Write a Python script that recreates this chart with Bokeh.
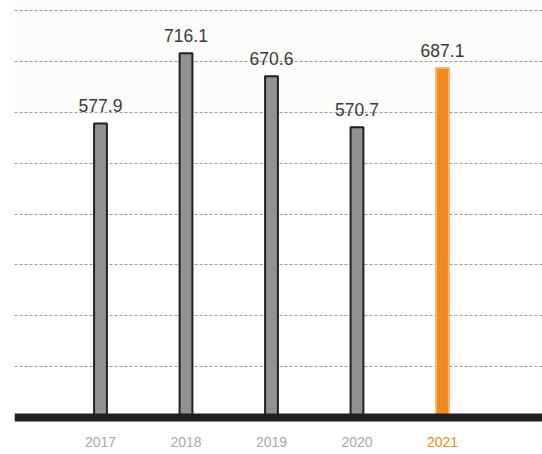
from bokeh.plotting import figure
from bokeh.models import ColumnDataSource, Range1d, Span, SingleIntervalTicker, BoxAnnotation
from bokeh.core.properties import value
from bokeh.embed import file_html
from bokeh.resources import INLINE

years = ["2017", "2018", "2019", "2020", "2021"]
values = [577.9, 716.1, 670.6, 570.7, 687.1]
fill_colors = ["#919295", "#919295", "#919295", "#919295", "#f08a1f"]
line_colors = ["#231f20", "#231f20", "#231f20", "#231f20", "#f7b46e"]
year_colors = ["#a8a8a8", "#a8a8a8", "#a8a8a8", "#a8a8a8", "#f08a1f"]

xs = list(range(len(years)))
src = ColumnDataSource(dict(
    x=xs, top=values, fill=fill_colors, line=line_colors, ycol=year_colors,
    label=[f"{v:.1f}" for v in values], year=years, zero=[0] * len(years),
))

px_per_x = 85.5
px_per_y = 0.50875
x_start = -86 / px_per_x
p = figure(width=542, height=454, output_backend="svg", toolbar_location=None,
           x_range=Range1d(x_start, x_start + 528 / px_per_x),
           y_range=Range1d(-37 / px_per_y, 417 / px_per_y),
           min_border_left=14, min_border_right=0, min_border_top=0, min_border_bottom=0)
p.outline_line_color = None
p.background_fill_color = "white"
p.border_fill_color = "white"

p.xaxis.visible = False
p.yaxis.visible = False
p.xgrid.visible = False
p.yaxis.ticker = SingleIntervalTicker(interval=100)
p.ygrid.ticker = SingleIntervalTicker(interval=100)
p.ygrid.bounds = (100, 800)
p.ygrid.grid_line_color = "#9a9a9a"
p.ygrid.grid_line_dash = "3 2"
p.ygrid.grid_line_width = 1

tint = BoxAnnotation(bottom=(417 - 117) / px_per_y, fill_color="#fcfcfa", fill_alpha=1,
                     line_color=None, level="image")
p.add_layout(tint)

p.vbar(x="x", top="top", bottom=0, width=0.15, source=src,
       fill_color="fill", line_color="line", line_width=2)

p.add_layout(Span(location=0, dimension="width", line_color="#231f20", line_width=8))

p.text(x="x", y="top", text="label", source=src, text_align="center",
       text_baseline="bottom", y_offset=-11, text_font=value("Liberation Sans"),
       text_font_size="17.5px", text_color="#3a3a3a")

p.text(x="x", y="zero", text="year", source=src, text_align="center",
       text_baseline="middle", y_offset=24, text_font=value("Liberation Sans"),
       text_font_size="14px", text_color="ycol")

open("out.html", "w").write(file_html(p, INLINE))
